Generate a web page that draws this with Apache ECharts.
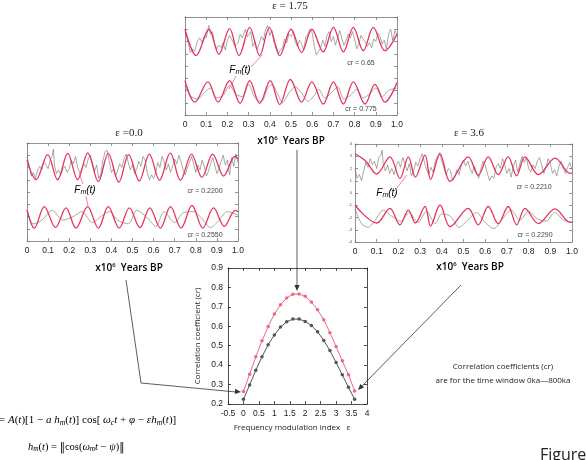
<!DOCTYPE html>
<html>
<head>
<meta charset="utf-8">
<title>Frequency modulation index</title>
<script src="https://cdn.jsdelivr.net/npm/echarts@6/dist/echarts.min.js"></script>
<style>
  html, body { margin: 0; padding: 0; background: #fff; }
  #chart { width: 586px; height: 460px; }
</style>
</head>
<body>
<div id="chart"></div>
<script>
// ---- main chart: correlation vs. frequency modulation index ----
var epsilon = [0, 0.2, 0.4, 0.6, 0.8, 1.0, 1.2, 1.4, 1.6, 1.8, 2.0, 2.2, 2.4, 2.6, 2.8, 3.0, 3.2, 3.4, 3.6];
var crRed  = [0.264, 0.353, 0.443, 0.525, 0.599, 0.663, 0.711, 0.746, 0.765, 0.766, 0.754, 0.725, 0.685, 0.634, 0.567, 0.496, 0.422, 0.350, 0.267];
var crGray = [0.224, 0.298, 0.374, 0.443, 0.505, 0.555, 0.596, 0.623, 0.637, 0.637, 0.625, 0.604, 0.572, 0.527, 0.475, 0.413, 0.350, 0.286, 0.224];

// ---- panel eps = 1.75 (top) ----
var redUp175 = [[0,3.0],[0.053,0.85],[0.113,3.0],[0.16,0.95],[0.21,3.05],[0.255,0.85],[0.305,3.15],[0.352,0.85],[0.398,3.15],[0.447,0.85],[0.50,3.0],[0.55,1.1],[0.598,3.0],[0.652,1.15],[0.70,3.15],[0.747,1.15],[0.794,3.15],[0.841,1.25],[0.888,3.15],[0.943,1.25],[1.0,2.6]];
var redLo175 = [[0,-1.2],[0.046,-2.95],[0.108,-1.3],[0.156,-2.95],[0.21,-1.2],[0.26,-3.05],[0.305,-1.2],[0.352,-3.05],[0.402,-1.2],[0.447,-3.15],[0.497,-1.1],[0.55,-2.95],[0.598,-1.3],[0.652,-3.1],[0.70,-1.3],[0.747,-3.1],[0.794,-1.3],[0.849,-3.1],[0.896,-1.5],[0.943,-2.95],[1.0,-1.35]];
var grayUp175 = [[0,2.7],[0.012,2.2],[0.025,1.1],[0.035,1.4],[0.045,1.2],[0.058,2.0],[0.07,2.3],[0.08,1.9],[0.09,2.4],[0.1,2.3],[0.112,3.3],[0.12,2.6],[0.13,2.8],[0.14,1.8],[0.15,1.4],[0.16,1.7],[0.17,1.5],[0.18,1.9],[0.19,1.3],[0.2,2.1],[0.21,2.5],[0.22,2.2],[0.235,1.6],[0.25,1.9],[0.26,2.6],[0.27,2.3],[0.285,3.0],[0.295,2.4],[0.31,2.8],[0.32,1.6],[0.33,2.0],[0.34,1.4],[0.35,1.8],[0.36,2.4],[0.37,2.1],[0.38,3.0],[0.39,3.3],[0.40,2.5],[0.41,2.9],[0.42,1.9],[0.43,1.7],[0.44,1.0],[0.45,1.3],[0.46,1.5],[0.47,2.2],[0.48,1.9],[0.49,2.6],[0.50,2.4],[0.51,2.8],[0.52,2.0],[0.53,1.6],[0.54,2.1],[0.55,1.8],[0.56,1.3],[0.57,2.4],[0.58,2.6],[0.59,3.0],[0.60,2.7],[0.61,1.6],[0.62,0.9],[0.63,1.2],[0.64,1.5],[0.65,2.1],[0.66,1.6],[0.67,2.5],[0.68,2.8],[0.69,2.0],[0.70,2.4],[0.71,1.7],[0.72,2.3],[0.73,2.9],[0.74,2.2],[0.75,1.7],[0.76,2.1],[0.77,2.6],[0.78,2.3],[0.79,2.8],[0.80,2.2],[0.81,1.4],[0.82,1.8],[0.83,2.5],[0.84,2.2],[0.85,2.0],[0.86,1.6],[0.87,1.9],[0.88,1.5],[0.89,2.2],[0.90,2.0],[0.91,2.7],[0.92,2.4],[0.93,1.8],[0.94,2.1],[0.95,1.4],[0.96,2.6],[0.97,3.0],[0.98,2.1],[0.99,2.9],[1.0,2.5]];
var grayLo175 = [[0,-1.6],[0.03,-2.5],[0.06,-2.7],[0.09,-2.2],[0.12,-1.8],[0.15,-2.6],[0.18,-2.4],[0.21,-1.6],[0.24,-2.3],[0.27,-2.5],[0.30,-1.5],[0.33,-2.6],[0.36,-2.9],[0.39,-1.8],[0.41,-1.5],[0.44,-2.4],[0.46,-3.0],[0.49,-2.2],[0.52,-1.7],[0.55,-2.2],[0.58,-2.9],[0.61,-2.4],[0.63,-1.9],[0.66,-2.6],[0.69,-2.2],[0.72,-1.7],[0.75,-2.7],[0.78,-2.4],[0.81,-1.9],[0.84,-2.6],[0.87,-2.3],[0.90,-1.8],[0.93,-2.5],[0.96,-2.0],[1.0,-1.8]];

// ---- panel eps = 0.0 (left) ----
var redUp0 = [[0,2.6],[0.043,1.0],[0.098,3.05],[0.145,1.0],[0.193,3.15],[0.24,1.0],[0.288,3.2],[0.338,0.85],[0.385,3.15],[0.435,0.8],[0.482,3.05],[0.532,0.9],[0.58,3.1],[0.628,0.95],[0.679,3.2],[0.727,0.95],[0.78,3.1],[0.829,1.2],[0.88,3.1],[0.932,1.3],[0.985,2.9],[1.0,2.7]];
var redLo0 = [[0,-1.45],[0.035,-2.95],[0.082,-1.2],[0.135,-2.9],[0.185,-1.3],[0.232,-2.95],[0.287,-1.2],[0.338,-2.95],[0.385,-1.2],[0.437,-2.95],[0.485,-1.3],[0.535,-2.9],[0.582,-1.3],[0.632,-2.95],[0.68,-1.2],[0.73,-2.95],[0.782,-1.1],[0.833,-2.95],[0.884,-1.3],[0.935,-2.8],[0.987,-1.5],[1.0,-1.6]];
var grayUp0 = [[0,2.9],[0.01,2.2],[0.02,1.3],[0.03,1.6],[0.04,1.1],[0.05,1.8],[0.06,2.1],[0.07,1.8],[0.08,2.5],[0.09,2.2],[0.10,1.9],[0.11,2.6],[0.12,3.0],[0.125,3.5],[0.13,2.2],[0.14,1.5],[0.15,1.8],[0.16,1.4],[0.17,1.9],[0.18,2.1],[0.19,1.6],[0.20,1.9],[0.21,2.6],[0.22,2.3],[0.23,2.9],[0.24,2.0],[0.25,1.6],[0.26,1.9],[0.27,2.3],[0.28,2.0],[0.29,2.7],[0.30,3.0],[0.31,2.4],[0.32,1.7],[0.33,2.2],[0.34,1.1],[0.35,1.5],[0.36,2.6],[0.37,3.3],[0.38,3.4],[0.39,2.5],[0.40,1.6],[0.41,1.9],[0.42,1.3],[0.43,1.8],[0.44,2.3],[0.45,2.0],[0.46,2.7],[0.47,3.1],[0.48,2.4],[0.49,1.8],[0.50,2.2],[0.51,1.5],[0.52,1.9],[0.53,2.5],[0.54,2.1],[0.55,2.9],[0.56,2.6],[0.57,1.6],[0.58,1.0],[0.59,1.4],[0.60,1.1],[0.61,1.6],[0.62,2.4],[0.63,2.0],[0.64,2.9],[0.65,2.5],[0.66,1.8],[0.67,2.3],[0.68,1.6],[0.69,2.1],[0.70,2.7],[0.71,2.3],[0.72,3.0],[0.73,2.5],[0.74,1.8],[0.75,1.4],[0.76,2.0],[0.77,2.4],[0.78,2.9],[0.79,2.3],[0.80,1.6],[0.81,2.2],[0.82,1.8],[0.83,2.6],[0.84,2.1],[0.85,1.3],[0.86,1.7],[0.87,2.3],[0.88,2.8],[0.89,2.2],[0.90,1.5],[0.91,1.9],[0.92,2.5],[0.93,3.0],[0.94,2.2],[0.95,2.6],[0.96,1.4],[0.97,2.8],[0.98,2.1],[0.99,3.1],[1.0,2.4]];
var grayLo0 = [[0,-1.5],[0.03,-2.6],[0.07,-2.3],[0.12,-1.5],[0.17,-2.3],[0.22,-2.0],[0.26,-1.6],[0.31,-2.5],[0.35,-2.0],[0.39,-1.6],[0.43,-2.3],[0.48,-2.6],[0.52,-1.5],[0.57,-2.1],[0.61,-2.8],[0.65,-1.6],[0.70,-2.5],[0.74,-1.7],[0.79,-1.6],[0.83,-2.2],[0.87,-2.9],[0.91,-2.3],[0.95,-1.6],[1.0,-1.9]];

// ---- panel eps = 3.6 (right) ----
var redUp36 = [[0,3.2],[0.05,2.6],[0.1,1.55],[0.161,2.95],[0.207,1.2],[0.246,2.95],[0.278,1.3],[0.323,3.1],[0.348,1.1],[0.392,3.2],[0.438,0.95],[0.522,2.95],[0.568,1.45],[0.614,2.95],[0.66,1.5],[0.706,2.95],[0.745,1.4],[0.783,2.95],[0.845,1.5],[0.922,2.85],[0.991,1.6],[1.0,1.65]];
var redLo36 = [[0,-1.0],[0.1,-2.45],[0.161,-1.25],[0.207,-2.6],[0.246,-1.4],[0.278,-2.45],[0.323,-1.1],[0.348,-2.7],[0.392,-0.98],[0.438,-2.75],[0.522,-1.25],[0.568,-2.6],[0.614,-1.1],[0.66,-2.5],[0.706,-1.1],[0.745,-2.6],[0.783,-1.25],[0.845,-2.5],[0.922,-1.3],[0.991,-2.4],[1.0,-2.35]];
var grayUp36 = [[0,2.0],[0.01,1.2],[0.02,1.5],[0.03,1.0],[0.04,1.8],[0.05,2.5],[0.06,2.1],[0.07,2.8],[0.08,2.3],[0.09,2.6],[0.10,2.0],[0.11,2.9],[0.12,3.1],[0.125,3.5],[0.13,2.4],[0.14,1.8],[0.15,2.3],[0.16,1.6],[0.17,2.0],[0.18,1.5],[0.19,2.2],[0.20,2.6],[0.21,2.1],[0.22,2.9],[0.23,2.4],[0.24,1.8],[0.25,2.4],[0.26,1.4],[0.27,1.8],[0.28,2.5],[0.29,2.2],[0.30,2.8],[0.31,3.2],[0.32,2.5],[0.33,1.9],[0.34,1.5],[0.35,2.1],[0.36,1.7],[0.37,2.6],[0.38,3.0],[0.39,3.3],[0.40,2.6],[0.41,2.0],[0.42,1.5],[0.43,2.0],[0.44,1.8],[0.45,1.0],[0.46,1.3],[0.47,1.9],[0.48,1.5],[0.49,2.3],[0.50,2.7],[0.51,2.2],[0.52,2.6],[0.53,2.0],[0.54,1.6],[0.55,2.2],[0.56,1.7],[0.57,1.2],[0.58,2.0],[0.59,2.6],[0.60,2.3],[0.61,1.6],[0.62,1.0],[0.63,1.4],[0.64,1.2],[0.65,2.1],[0.66,2.4],[0.67,2.0],[0.68,2.8],[0.69,2.3],[0.70,1.6],[0.71,2.0],[0.72,1.3],[0.73,2.2],[0.74,2.7],[0.75,1.7],[0.76,2.4],[0.77,3.0],[0.78,2.5],[0.79,2.9],[0.80,2.0],[0.81,1.7],[0.82,2.3],[0.83,2.0],[0.84,2.6],[0.85,2.9],[0.86,2.3],[0.87,1.6],[0.88,2.1],[0.89,2.8],[0.90,2.4],[0.91,1.6],[0.92,1.9],[0.93,1.4],[0.94,2.2],[0.95,2.6],[0.96,2.0],[0.97,1.6],[0.98,2.1],[0.99,2.5],[1.0,1.9]];
var grayLo36 = [[0,-1.3],[0.03,-2.5],[0.06,-2.8],[0.09,-2.3],[0.13,-1.4],[0.17,-1.9],[0.21,-2.3],[0.25,-1.6],[0.29,-2.4],[0.33,-1.5],[0.37,-2.5],[0.40,-1.7],[0.44,-1.9],[0.48,-2.8],[0.52,-2.2],[0.56,-1.6],[0.60,-2.4],[0.64,-2.9],[0.68,-2.1],[0.72,-1.4],[0.76,-2.2],[0.80,-1.5],[0.84,-2.1],[0.88,-2.3],[0.92,-1.6],[0.96,-2.2],[1.0,-2.4]];

var RED = '#e5335a';
var GRAY = '#6f6f6f';

var chart = echarts.init(document.getElementById('chart'));

// axes for a small time panel (grid gi), bottom/top + left/right
function panelX(gi, pos) {
  return {
    gridIndex: gi, type: 'value', min: 0, max: 1, interval: 0.1, position: pos,
    axisLine: { show: true, onZero: false, lineStyle: { color: '#777', width: 0.8 } },
    axisTick: { show: true, inside: true, length: 3, lineStyle: { color: '#777', width: 0.8 } },
    axisLabel: {
      show: pos === 'bottom', fontSize: 8.5, color: '#222', margin: 5, fontFamily: 'Liberation Sans',
      formatter: function (v) { return v === 0 ? '0' : v.toFixed(1); }
    },
    splitLine: { show: false }
  };
}
function panelY(gi, pos, labels) {
  return {
    gridIndex: gi, type: 'value', min: -4, max: 4, interval: 1, position: pos,
    axisLine: { show: true, onZero: false, lineStyle: { color: '#777', width: 0.8 } },
    axisTick: { show: true, inside: true, length: 3, lineStyle: { color: '#777', width: 0.8 } },
    axisLabel: { show: labels && pos === 'left', fontSize: 4, color: '#555', margin: 3 },
    splitLine: { show: false }
  };
}
function mainX(pos) {
  return {
    gridIndex: 3, type: 'value', min: -0.5, max: 4, interval: 0.5, position: pos,
    axisLine: { show: true, onZero: false, lineStyle: { color: '#222', width: 0.8 } },
    axisTick: { show: true, inside: true, length: 3, lineStyle: { color: '#222', width: 0.8 } },
    axisLabel: { show: pos === 'bottom', fontSize: 8.5, color: '#222', margin: 5, fontFamily: 'Liberation Sans' },
    splitLine: { show: false }
  };
}
function mainY(pos) {
  return {
    gridIndex: 3, type: 'value', min: 0.2, max: 0.9, interval: 0.1, position: pos,
    axisLine: { show: true, onZero: false, lineStyle: { color: '#222', width: 0.8 } },
    axisTick: { show: true, inside: true, length: 3, lineStyle: { color: '#222', width: 0.8 } },
    axisLabel: { show: pos === 'left', fontSize: 8.5, color: '#222', margin: 5, fontFamily: 'Liberation Sans',
      formatter: function (v) { return v.toFixed(1); } },
    splitLine: { show: false }
  };
}

function wave(data, idx, color, width, smooth) {
  return {
    type: 'line', xAxisIndex: idx, yAxisIndex: idx, data: data,
    showSymbol: false, smooth: smooth, silent: true,
    lineStyle: { color: color, width: width }
  };
}

function zip(xs, ys) {
  return xs.map(function (x, i) { return [x, ys[i]]; });
}

// text helpers
function txt(x, y, text, font, fill, align) {
  return { type: 'text', x: x, y: y, silent: true,
    style: { text: text, font: font, fill: fill || '#222', textAlign: align || 'center', textVerticalAlign: 'middle' } };
}
function richTxt(x, y, text, rich, align) {
  return { type: 'text', x: x, y: y, silent: true,
    style: { text: text, rich: rich, textAlign: align || 'center', textVerticalAlign: 'middle' } };
}
function seg(pts, color, w) {
  return { type: 'polyline', silent: true, shape: { points: pts },
    style: { stroke: color, lineWidth: w || 0.8, fill: null } };
}
function head(x1, y1, x2, y2, color) {
  var a = Math.atan2(y2 - y1, x2 - x1), L = 6, W = 2.6;
  var bx = x2 - L * Math.cos(a), by = y2 - L * Math.sin(a);
  return { type: 'polygon', silent: true,
    shape: { points: [[x2, y2], [bx - W * Math.sin(a), by + W * Math.cos(a)], [bx + W * Math.sin(a), by - W * Math.cos(a)]] },
    style: { fill: color } };
}

var fmRich = {
  f: { fontFamily: 'Liberation Sans', fontStyle: 'italic', fontSize: 10, color: RED },
  m: { fontFamily: 'Liberation Sans', fontStyle: 'italic', fontSize: 7, color: RED, padding: [4, 0, 0, 0] }
};
var fmText = '{f|F}{m|m}{f|(t)}';
var yrsRich = {
  a: { fontFamily: 'Open Sans', fontSize: 10, color: '#222', fontWeight: 600 },
  s: { fontFamily: 'Open Sans', fontSize: 6, color: '#222', fontWeight: 600, padding: [0, 0, 6, 0] }
};
var yrsText = '{a|x10}{s|6}{a|  Years BP}';
function eqStyles(size) {
  return {
    n: { fontFamily: 'Liberation Serif', fontSize: size, color: '#222' },
    i: { fontFamily: 'Liberation Serif', fontStyle: 'italic', fontSize: size, color: '#222' },
    s: { fontFamily: 'Liberation Serif', fontStyle: 'italic', fontSize: size * 0.7, color: '#222', padding: [5, 0, 0, 0] },
    b: { fontFamily: 'DejaVu Serif', fontSize: size, color: '#222' }
  };
}

var graphic = [
  txt(290, 6, 'ε = 1.75', '11px "Liberation Serif"'),
  txt(129, 133, 'ε =0.0', '11px "Liberation Serif"'),
  txt(469, 133, 'ε = 3.6', '11px "Liberation Serif"'),
  richTxt(291, 141, yrsText, yrsRich),
  richTxt(129, 268, yrsText, yrsRich),
  richTxt(470, 267, yrsText, yrsRich),
  // Fm(t) labels
  richTxt(240, 70, fmText, fmRich),
  seg([[251, 67], [262, 55]], RED, 0.6),
  seg([[236, 76], [229, 89]], RED, 0.6),
  richTxt(85, 190, fmText, fmRich),
  seg([[83, 184], [79, 173]], RED, 0.6),
  seg([[86, 196], [88, 206]], RED, 0.6),
  richTxt(387, 193, fmText, fmRich),
  seg([[397, 188], [407, 175]], RED, 0.6),
  // cr values
  txt(361, 63, 'cr = 0.65', '7px "Liberation Sans"', '#444'),
  txt(361, 109, 'cr = 0.775', '7px "Liberation Sans"', '#444'),
  txt(205, 191, 'cr = 0.2200', '7px "Liberation Sans"', '#444'),
  txt(205, 235, 'cr = 0.2550', '7px "Liberation Sans"', '#444'),
  txt(534, 187, 'cr = 0.2210', '7px "Liberation Sans"', '#444'),
  txt(535, 235, 'cr = 0.2290', '7px "Liberation Sans"', '#444'),
  // main chart axis names
  { type: 'text', x: 198, y: 336, rotation: Math.PI / 2, silent: true,
    style: { text: 'Correlation coefficient (cr)', font: '8px "Open Sans"', fill: '#222', textAlign: 'center', textVerticalAlign: 'middle' } },
  txt(292, 428, 'Frequency modulation index   ε', '8px "Open Sans"'),
  // arrows
  seg([[297, 150], [297, 286]], '#333', 0.8),
  head(297, 150, 297, 291, '#333'),
  seg([[126, 280], [141, 383], [236, 392]], '#333', 0.8),
  head(141, 383, 241, 392, '#333'),
  seg([[461, 285], [362, 386]], '#333', 0.8),
  head(461, 285, 358, 390, '#333'),
  // notes
  txt(503, 367, 'Correlation coefficients (cr)', '8px "Open Sans"'),
  txt(503, 381, 'are for the time window 0ka\u2014800ka', '8px "Open Sans"'),
  txt(540, 455, 'Figure', '16px "Open Sans"', '#222', 'left'),
  // formulas
  richTxt(-1, 420, '{n|= }{i|A}{n|(}{i|t}{n|)[1 \u2212 }{i|a h}{s|m}{n|(}{i|t}{n|)] cos[ }{i|\u03c9}{s|c}{i|t}{n| + }{i|\u03c6}{n| \u2212 }{i|\u03b5h}{s|m}{n|(}{i|t}{n|)]}', eqStyles(11), 'left'),
  richTxt(28, 447, '{i|h}{s|m}{n|(}{i|t}{n|) = }{b|\u2016}{n|cos(}{i|\u03c9}{s|m}{i|t}{n| \u2212 }{i|\u03c8}{n|)}{b|\u2016}', eqStyles(10.5), 'left')
];

var option = {
  animation: false,
  backgroundColor: '#fff',
  grid: [
    { left: 185, top: 17, width: 212, height: 98 },
    { left: 27, top: 143, width: 211, height: 98 },
    { left: 355, top: 144, width: 217, height: 98 },
    { left: 228, top: 268, width: 139, height: 136 }
  ],
  xAxis: [
    panelX(0, 'bottom'), panelX(0, 'top'),
    panelX(1, 'bottom'), panelX(1, 'top'),
    panelX(2, 'bottom'), panelX(2, 'top'),
    mainX('bottom'), mainX('top')
  ],
  yAxis: [
    panelY(0, 'left', false), panelY(0, 'right', false),
    panelY(1, 'left', false), panelY(1, 'right', false),
    panelY(2, 'left', true), panelY(2, 'right', true),
    mainY('left'), mainY('right')
  ],
  series: [
    wave(grayUp175, 0, GRAY, 0.6, false),
    wave(grayLo175, 0, GRAY, 0.6, 0.3),
    wave(redUp175, 0, RED, 1.3, 0.35),
    wave(redLo175, 0, RED, 1.3, 0.35),

    wave(grayUp0, 2, GRAY, 0.6, false),
    wave(grayLo0, 2, GRAY, 0.6, 0.3),
    wave(redUp0, 2, RED, 1.3, 0.35),
    wave(redLo0, 2, RED, 1.3, 0.35),

    wave(grayUp36, 4, GRAY, 0.6, false),
    wave(grayLo36, 4, GRAY, 0.6, 0.3),
    wave(redUp36, 4, RED, 1.3, 0.35),
    wave(redLo36, 4, RED, 1.3, 0.35),

    {
      type: 'line', xAxisIndex: 6, yAxisIndex: 6, data: zip(epsilon, crRed),
      symbol: 'circle', symbolSize: 3.5, smooth: false,
      lineStyle: { color: '#ec6a80', width: 1 }, itemStyle: { color: '#ec6a80' }
    },
    {
      type: 'line', xAxisIndex: 6, yAxisIndex: 6, data: zip(epsilon, crGray),
      symbol: 'circle', symbolSize: 3.5, smooth: false,
      lineStyle: { color: '#555', width: 1 }, itemStyle: { color: '#555' }
    }
  ],
  graphic: graphic
};

chart.setOption(option);

window.onresize = function () {
  chart.resize();
};
</script>
</body>
</html>
